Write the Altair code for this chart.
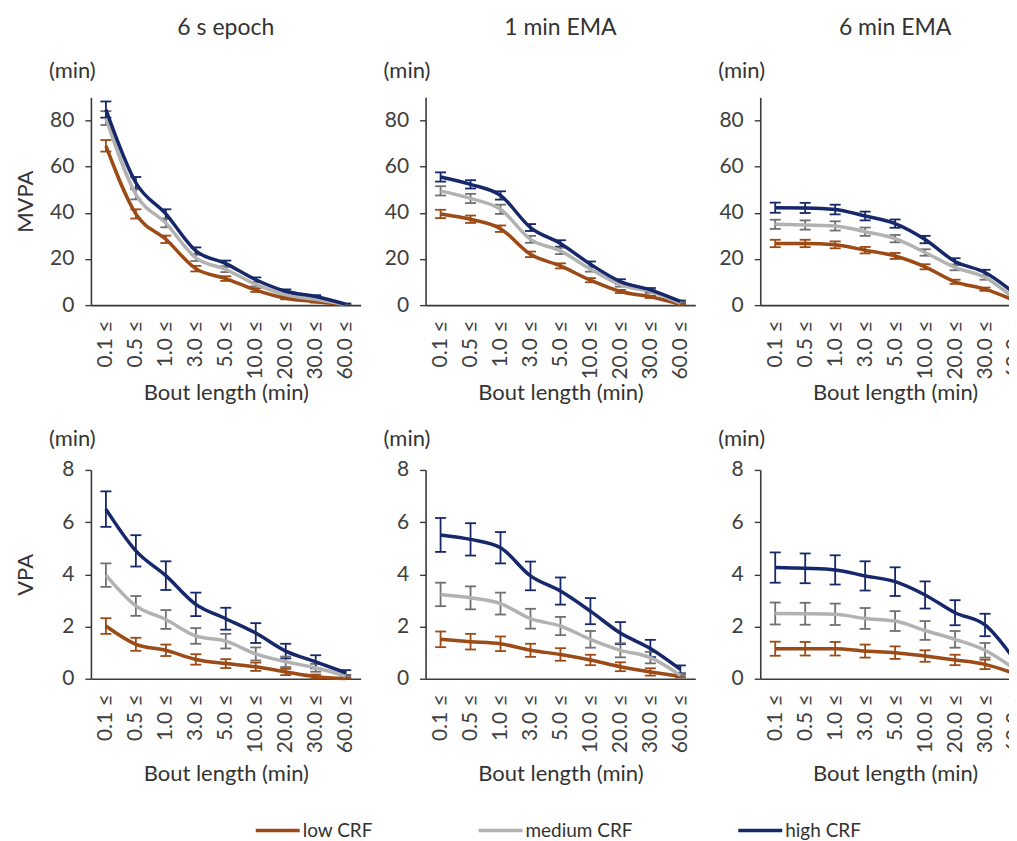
import altair as alt
import pandas as pd

FONT = "Lato"

BOUTS = ["0.1 ≤", "0.5 ≤", "1.0 ≤", "3.0 ≤", "5.0 ≤", "10.0 ≤", "20.0 ≤", "30.0 ≤", "60.0 ≤"]
GROUPS = ["low CRF", "medium CRF", "high CRF"]
LINE_COLORS = ["#9C4A16", "#B2B2B2", "#16286A"]
ERR_COLORS = ["#9C4A16", "#707070", "#16286A"]
COLUMN_TITLES = ["6 s epoch", "1 min EMA", "6 min EMA"]
ROW_TITLES = ["MVPA", "VPA"]
MVPA_TICKS = [0, 20, 40, 60, 80]
VPA_TICKS = [0, 2, 4, 6, 8]

# ---- MVPA (min): means ----
MVPA_6S = {
    "low CRF": [69, 39.5, 28.5, 15.8, 11.5, 6.5, 3, 1.5, 0.3],
    "medium CRF": [81, 48, 35.5, 20.5, 15.5, 9, 4.5, 2.5, 0.3],
    "high CRF": [84.7, 53, 39.5, 23.5, 18, 11, 6, 3.7, 0.4],
}
MVPA_1M = {
    "low CRF": [39.5, 37.2, 33.1, 22, 17, 10.8, 5.9, 3.6, 0.4],
    "medium CRF": [49.5, 46.2, 41.5, 28.5, 23.5, 15.6, 8.8, 5.9, 0.9],
    "high CRF": [55.5, 52.3, 47.5, 33.6, 26.7, 17.7, 10.2, 6.6, 1.6],
}
MVPA_6M = {
    "low CRF": [26.7, 26.7, 26.1, 23.8, 21.3, 16.6, 10.1, 6.9, 1.9],
    "medium CRF": [35, 34.7, 34.3, 31.8, 28.8, 22.8, 16.3, 12, 2.6],
    "high CRF": [42.2, 42.1, 41.4, 38.6, 35.3, 28.4, 18.9, 14.1, 5],
}
# ---- MVPA: error half-widths ----
MVPA_6S_ERR = {
    "low CRF": [2.5, 2, 1.6, 1.2, 1, 0.8, 0.5, 0.4, 0.2],
    "medium CRF": [3, 2.2, 1.8, 1.4, 1.2, 0.9, 0.6, 0.5, 0.2],
    "high CRF": [3.5, 2.5, 2, 1.5, 1.3, 1, 0.8, 0.6, 0.3],
}
MVPA_1M_ERR = {
    "low CRF": [1.8, 1.6, 1.4, 1.2, 1.1, 0.9, 0.7, 0.5, 0.2],
    "medium CRF": [2, 2, 2, 1.5, 1.4, 1.1, 0.8, 0.6, 0.3],
    "high CRF": [2, 1.8, 1.8, 1.5, 1.4, 1.2, 1, 0.8, 0.4],
}
MVPA_6M_ERR = {
    "low CRF": [1.6, 1.6, 1.5, 1.4, 1.3, 1.1, 0.9, 0.7, 0.3],
    "medium CRF": [2, 2, 2, 1.8, 1.6, 1.4, 1.2, 1, 0.4],
    "high CRF": [2.2, 2.2, 2.1, 1.9, 1.8, 1.6, 1.4, 1.2, 0.6],
}
# ---- VPA (min): means ----
VPA_6S = {
    "low CRF": [2.02, 1.32, 1.09, 0.74, 0.58, 0.46, 0.26, 0.08, 0.01],
    "medium CRF": [3.97, 2.79, 2.27, 1.64, 1.44, 0.95, 0.65, 0.42, 0.1],
    "high CRF": [6.5, 4.9, 3.95, 2.85, 2.3, 1.75, 1.06, 0.65, 0.23],
}
VPA_1M = {
    "low CRF": [1.51, 1.42, 1.34, 1.09, 0.93, 0.72, 0.46, 0.26, 0.1],
    "medium CRF": [3.23, 3.1, 2.88, 2.3, 2.02, 1.51, 1.09, 0.81, 0.13],
    "high CRF": [5.51, 5.34, 5.02, 3.94, 3.36, 2.59, 1.75, 1.16, 0.36],
}
VPA_6M = {
    "low CRF": [1.15, 1.15, 1.15, 1.06, 1.0, 0.87, 0.72, 0.55, 0.19],
    "medium CRF": [2.5, 2.49, 2.47, 2.31, 2.21, 1.85, 1.51, 1.09, 0.36],
    "high CRF": [4.26, 4.23, 4.17, 3.94, 3.72, 3.21, 2.53, 2.06, 0.7],
}
# ---- VPA: error half-widths ----
VPA_6S_ERR = {
    "low CRF": [0.3, 0.25, 0.22, 0.2, 0.17, 0.16, 0.12, 0.08, 0.03],
    "medium CRF": [0.45, 0.38, 0.36, 0.3, 0.28, 0.25, 0.2, 0.15, 0.05],
    "high CRF": [0.68, 0.6, 0.55, 0.45, 0.42, 0.38, 0.28, 0.25, 0.1],
}
VPA_1M_ERR = {
    "low CRF": [0.3, 0.3, 0.28, 0.25, 0.24, 0.2, 0.17, 0.14, 0.05],
    "medium CRF": [0.45, 0.44, 0.42, 0.38, 0.35, 0.32, 0.27, 0.22, 0.06],
    "high CRF": [0.65, 0.62, 0.6, 0.55, 0.52, 0.5, 0.42, 0.33, 0.15],
}
VPA_6M_ERR = {
    "low CRF": [0.27, 0.26, 0.26, 0.25, 0.24, 0.22, 0.2, 0.18, 0.06],
    "medium CRF": [0.42, 0.42, 0.41, 0.4, 0.38, 0.36, 0.32, 0.28, 0.1],
    "high CRF": [0.58, 0.57, 0.56, 0.56, 0.55, 0.52, 0.48, 0.43, 0.2],
}

W = 270
H_TOP = 208
H_BOTTOM = 209
LABEL_SIZE = 21
TITLE_SIZE = 22
TEXT_COLOR = "#333333"
SYMBOL_LEN = 44

color_scale = alt.Scale(domain=GROUPS, range=LINE_COLORS)


def panel(means, errs, ymax, ticks, row, col):
    h = H_TOP if row == 0 else H_BOTTOM
    recs = []
    for g, ec in zip(GROUPS, ERR_COLORS):
        for b, m, e in zip(BOUTS, means[g], errs[g]):
            recs.append({"bout": b, "group": g, "mean": m,
                         "lo": max(m - e, 0), "hi": m + e, "ecol": ec})
    df = pd.DataFrame(recs)
    xaxis = alt.Axis(
        title="Bout length (min)", labelAngle=270, ticks=False, labelPadding=15,
        titlePadding=3 if row == 0 else 11,
    )
    yaxis = alt.Axis(
        values=ticks, title=ROW_TITLES[row] if col == 0 else None,
        tickSize=6, labelPadding=11, titleAngle=270, titleX=-65, titleY=h / 2,
        titleAlign="center", titleBaseline="middle",
    )
    x = alt.X("bout:N", sort=BOUTS, scale=alt.Scale(type="point", padding=0.5), axis=xaxis)
    yscale = alt.Scale(domain=[0, ymax], nice=False)
    base = alt.Chart(df)
    line = base.mark_line(strokeWidth=3.5, interpolate="monotone").encode(
        x=x,
        y=alt.Y("mean:Q", scale=yscale, axis=yaxis),
        color=alt.Color("group:N", scale=color_scale, legend=None, sort=GROUPS),
    )
    bars = base.mark_rule(strokeWidth=1.8, opacity=1).encode(
        x=x, y=alt.Y("lo:Q", scale=yscale, axis=yaxis), y2="hi:Q",
        color=alt.Color("ecol:N", scale=None),
    )
    cap_lo = base.mark_tick(size=11, thickness=1.8, opacity=1).encode(
        x=x, y=alt.Y("lo:Q", scale=yscale, axis=yaxis),
        color=alt.Color("ecol:N", scale=None),
    )
    cap_hi = base.mark_tick(size=11, thickness=1.8, opacity=1).encode(
        x=x, y=alt.Y("hi:Q", scale=yscale, axis=yaxis),
        color=alt.Color("ecol:N", scale=None),
    )
    unit = alt.Chart(pd.DataFrame({"t": ["(min)"]})).mark_text(
        align="left", baseline="middle", font=FONT, fontSize=TITLE_SIZE, color=TEXT_COLOR
    ).encode(x=alt.value(-42), y=alt.value(-26 if row == 0 else -31), text="t:N")
    layers = [bars, cap_lo, cap_hi, line, unit]
    if row == 0:
        ttl = alt.Chart(pd.DataFrame({"t": [COLUMN_TITLES[col]]})).mark_text(
            align="center", baseline="middle", font=FONT, fontSize=23, color=TEXT_COLOR
        ).encode(x=alt.value(W / 2), y=alt.value(-69), text="t:N")
        layers.append(ttl)
    return alt.layer(*layers).properties(width=W, height=h)


def legend_item(group, lead):
    d = pd.DataFrame({"group": [group]})
    sym = alt.Chart(d).mark_tick(
        orient="horizontal", size=SYMBOL_LEN, thickness=3.5, opacity=1
    ).encode(
        x=alt.value(lead + SYMBOL_LEN / 2), y=alt.value(8),
        color=alt.Color("group:N", scale=color_scale, legend=None, sort=GROUPS),
    )
    txt = alt.Chart(d).mark_text(
        align="left", baseline="middle", font=FONT, fontSize=19, color=TEXT_COLOR
    ).encode(x=alt.value(lead + SYMBOL_LEN + 3), y=alt.value(8), text="group:N")
    return alt.layer(sym, txt).properties(width=lead + SYMBOL_LEN, height=16)


top = alt.hconcat(
    panel(MVPA_6S, MVPA_6S_ERR, 90, MVPA_TICKS, 0, 0),
    panel(MVPA_1M, MVPA_1M_ERR, 90, MVPA_TICKS, 0, 1),
    panel(MVPA_6M, MVPA_6M_ERR, 90, MVPA_TICKS, 0, 2),
    spacing=23,
)
bottom = alt.hconcat(
    panel(VPA_6S, VPA_6S_ERR, 8, VPA_TICKS, 1, 0),
    panel(VPA_1M, VPA_1M_ERR, 8, VPA_TICKS, 1, 1),
    panel(VPA_6M, VPA_6M_ERR, 8, VPA_TICKS, 1, 2),
    spacing=23,
)
legend_row = alt.hconcat(
    legend_item(GROUPS[0], 165),
    legend_item(GROUPS[1], 0),
    legend_item(GROUPS[2], 0),
    spacing=105,
)

chart = alt.vconcat(
    alt.vconcat(top, bottom, spacing=24), legend_row, spacing=36
).resolve_scale(color="shared").properties(
    padding={"left": 7, "top": 9, "right": -21, "bottom": 0}
).configure_view(stroke=None).configure_axis(
    domainColor="#3a3a3a", domainWidth=1.6, tickColor="#3a3a3a", tickWidth=1.4,
    labelColor="#404040", titleColor=TEXT_COLOR, labelFont=FONT, titleFont=FONT,
    labelFontSize=LABEL_SIZE, titleFontSize=TITLE_SIZE, titleFontWeight="normal", grid=False,
)

chart.save("out.html", embed_options={"renderer": "svg", "actions": False})
